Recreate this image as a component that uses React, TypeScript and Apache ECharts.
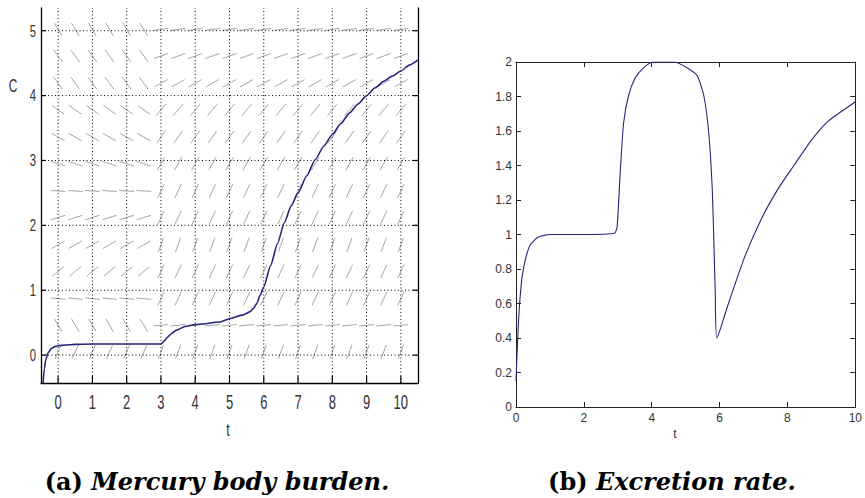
import React, { useEffect, useRef } from "react";
import * as echarts from "echarts";

// ---- (a) Mercury body burden: solution curve ----
const A_T = [-0.44, -0.4, -0.36, -0.3, -0.2, -0.1, 0, 0.2, 0.5, 1, 2, 3, 3.1, 3.2, 3.3, 3.45, 3.7, 4, 4.2, 4.7, 5, 5.4, 5.6, 5.7, 5.8, 5.9, 6, 6.2, 6.4, 6.6, 6.8, 7, 7.25, 7.5, 7.75, 8, 8.25, 8.5, 8.75, 9, 9.25, 9.5, 9.75, 10, 10.25, 10.5];
const A_C = [-0.43, -0.2, -0.07, 0.03, 0.1, 0.13, 0.145, 0.155, 0.165, 0.17, 0.17, 0.17, 0.22, 0.28, 0.33, 0.385, 0.44, 0.47, 0.48, 0.51, 0.56, 0.62, 0.67, 0.72, 0.8, 0.93, 1.05, 1.38, 1.72, 2.04, 2.3, 2.5, 2.76, 3.01, 3.22, 3.4, 3.57, 3.73, 3.87, 4.0, 4.12, 4.22, 4.3, 4.38, 4.47, 4.55];

// direction field of (a)
const FIELD_T = [0, 0.5, 1, 1.5, 2, 2.5, 3, 3.5, 4, 4.5, 5, 5.5, 6, 6.5, 7, 7.5, 8, 8.5, 9, 9.5, 10];
const FIELD_C = [0.05, 0.46, 0.87, 1.29, 1.7, 2.12, 2.53, 2.95, 3.36, 3.78, 4.19, 4.61, 5.02];
const FIELD_SWITCH_T = 3;
const FIELD_SLOPE_BEFORE = [1.2, -0.91, -0.05, 0.44, 0.3, 0.17, -0.03, -0.17, -0.3, -0.37, -0.72, -0.72, -0.9];
const FIELD_SLOPE_AFTER = [1.45, 0.05, 1.13, 1.13, 1.45, 1.13, 1.13, 0.91, 0.75, 0.63, 0.3, 0.19, 0.07];

const A_X_TICKS = [0, 1, 2, 3, 4, 5, 6, 7, 8, 9, 10];
const A_Y_TICKS = [0, 1, 2, 3, 4, 5];
const A_X_MIN = -0.5;
const A_X_MAX = 10.5;
const A_Y_MIN = -0.43;
const A_Y_MAX = 5.35;

// ---- (b) Excretion rate ----
const B_T = [0, 0.04, 0.08, 0.11, 0.17, 0.27, 0.42, 0.66, 1.0, 2.0, 2.9, 2.98, 3.07, 3.17, 3.31, 3.51, 3.75, 4.04, 4.67, 5.05, 5.34, 5.54, 5.68, 5.78, 5.83, 5.87, 5.92, 6.26, 6.74, 7.23, 7.71, 8.19, 8.68, 9.16, 9.64, 10.0];
const B_E = [0.15, 0.35, 0.52, 0.61, 0.74, 0.85, 0.94, 0.985, 1.0, 1.0, 1.007, 1.045, 1.355, 1.645, 1.8, 1.907, 1.965, 2.0, 2.0, 1.965, 1.92, 1.8, 1.59, 1.28, 0.97, 0.68, 0.4, 0.6, 0.87, 1.09, 1.26, 1.4, 1.54, 1.65, 1.72, 1.77];

const SANS = "'Liberation Sans', Arial, sans-serif";
const SERIF = "'DejaVu Serif', 'Liberation Serif', serif";
const CURVE = "#26267a";

export default function App() {
  const ref = useRef<HTMLDivElement>(null);

  useEffect(() => {
    if (!ref.current) return;
    const chart = echarts.init(ref.current, undefined, { renderer: "svg" });

    const fieldData: number[][] = [];
    FIELD_T.forEach((t) => {
      FIELD_C.forEach((c, i) => {
        const s = t < FIELD_SWITCH_T ? FIELD_SLOPE_BEFORE[i] : FIELD_SLOPE_AFTER[i];
        fieldData.push([t, c, s]);
      });
    });

    const captionRich = {
      a: { fontFamily: SERIF, fontWeight: "bold", fontSize: 24, fill: "#000" },
      b: { fontFamily: SERIF, fontWeight: "bold", fontStyle: "italic", fontSize: 24, fill: "#000" },
    };

    const option: any = {
      animation: false,
      backgroundColor: "#fff",
      grid: [
        { left: 41, top: 8, width: 377, height: 375 },
        { left: 516, top: 62, width: 345, height: 345 },
      ],
      xAxis: [
        {
          type: "value", gridIndex: 0, min: A_X_MIN, max: A_X_MAX,
          axisLine: { show: true, onZero: false, lineStyle: { color: "#000", width: 1.3 } },
          axisTick: { show: false }, axisLabel: { show: false }, splitLine: { show: false },
        },
        {
          type: "value", gridIndex: 1, min: 0, max: 10, interval: 2,
          axisLine: { show: true, onZero: false, lineStyle: { color: "#222", width: 1 } },
          axisTick: { show: true, inside: true, length: 5, lineStyle: { color: "#222" } },
          axisLabel: { color: "#333", fontSize: 12, fontFamily: SANS, margin: 5 },
          splitLine: { show: false },
        },
        {
          type: "value", gridIndex: 1, min: 0, max: 10, interval: 2, position: "top",
          axisLine: { show: true, onZero: false, lineStyle: { color: "#222", width: 1 } },
          axisTick: { show: true, inside: true, length: 5, lineStyle: { color: "#222" } },
          axisLabel: { show: false }, splitLine: { show: false },
        },
      ],
      yAxis: [
        {
          type: "value", gridIndex: 0, min: A_Y_MIN, max: A_Y_MAX,
          axisLine: { show: true, onZero: false, lineStyle: { color: "#000", width: 1.3 } },
          axisTick: { show: false }, axisLabel: { show: false }, splitLine: { show: false },
        },
        {
          type: "value", gridIndex: 0, min: A_Y_MIN, max: A_Y_MAX, position: "right",
          axisLine: { show: true, onZero: false, lineStyle: { color: "#000", width: 1.3 } },
          axisTick: { show: false }, axisLabel: { show: false }, splitLine: { show: false },
        },
        {
          type: "value", gridIndex: 1, min: 0, max: 2, interval: 0.2,
          axisLine: { show: true, onZero: false, lineStyle: { color: "#222", width: 1 } },
          axisTick: { show: true, inside: true, length: 5, lineStyle: { color: "#222" } },
          axisLabel: { color: "#333", fontSize: 12, fontFamily: SANS, margin: 4 },
          splitLine: { show: false },
        },
        {
          type: "value", gridIndex: 1, min: 0, max: 2, interval: 0.2, position: "right",
          axisLine: { show: true, onZero: false, lineStyle: { color: "#222", width: 1 } },
          axisTick: { show: true, inside: true, length: 5, lineStyle: { color: "#222" } },
          axisLabel: { show: false }, splitLine: { show: false },
        },
      ],
      series: [
        // direction field
        {
          type: "custom", xAxisIndex: 0, yAxisIndex: 0, data: fieldData, silent: true,
          renderItem: (params: any, api: any) => {
            const p = api.coord([api.value(0), api.value(1)]);
            const sz = api.size([1, 1]);
            const ang = Math.atan2(api.value(2) * sz[1], sz[0]);
            const L = 7.5;
            const dx = Math.cos(ang) * L;
            const dy = Math.sin(ang) * L;
            return {
              type: "line",
              shape: { x1: p[0] - dx, y1: p[1] + dy, x2: p[0] + dx, y2: p[1] - dy },
              style: { stroke: "#a6a6a6", lineWidth: 1 },
            };
          },
        },
        // vertical dotted grid + ticks + labels for (a)
        {
          type: "custom", xAxisIndex: 0, yAxisIndex: 0, silent: true,
          data: A_X_TICKS.map((v) => [v, A_Y_MIN]),
          renderItem: (params: any, api: any) => {
            const v = api.value(0);
            const b = api.coord([v, A_Y_MIN]);
            const t = api.coord([v, A_Y_MAX]);
            return {
              type: "group",
              children: [
                { type: "line", shape: { x1: b[0], y1: b[1], x2: t[0], y2: t[1] }, style: { stroke: "#000", lineWidth: 1, lineDash: [1, 2.5] } },
                { type: "line", shape: { x1: b[0], y1: b[1], x2: b[0], y2: b[1] - 7 }, style: { stroke: "#000", lineWidth: 1.2 } },
                {
                  type: "text", x: b[0], y: b[1] + 19, scaleX: 0.62,
                  style: { text: String(v), fontSize: 21, fontFamily: SANS, fill: "#333", align: "center", verticalAlign: "middle" },
                },
              ],
            };
          },
        },
        // horizontal dotted grid + ticks + labels for (a)
        {
          type: "custom", xAxisIndex: 0, yAxisIndex: 0, silent: true,
          data: A_Y_TICKS.map((v) => [A_X_MIN, v]),
          renderItem: (params: any, api: any) => {
            const v = api.value(1);
            const l = api.coord([A_X_MIN, v]);
            const r = api.coord([A_X_MAX, v]);
            return {
              type: "group",
              children: [
                { type: "line", shape: { x1: l[0], y1: l[1], x2: r[0], y2: r[1] }, style: { stroke: "#000", lineWidth: 1, lineDash: [1, 2.5] } },
                { type: "line", shape: { x1: l[0], y1: l[1], x2: l[0] + 5, y2: l[1] }, style: { stroke: "#000", lineWidth: 1.2 } },
                { type: "line", shape: { x1: r[0], y1: r[1], x2: r[0] - 5, y2: r[1] }, style: { stroke: "#000", lineWidth: 1.2 } },
                {
                  type: "text", x: l[0] - 5, y: l[1], scaleX: 0.66,
                  style: { text: String(v), fontSize: 17, fontFamily: SANS, fill: "#333", align: "right", verticalAlign: "middle" },
                },
              ],
            };
          },
        },
        {
          type: "line", xAxisIndex: 0, yAxisIndex: 0, showSymbol: false, smooth: 0.2, smoothMonotone: "x",
          data: A_T.map((t, i) => [t, A_C[i]]),
          lineStyle: { color: CURVE, width: 1.6 }, clip: true,
        },
        {
          type: "line", xAxisIndex: 1, yAxisIndex: 2, showSymbol: false, smooth: 0.2,
          data: B_T.map((t, i) => [t, B_E[i]]),
          lineStyle: { color: CURVE, width: 1.1 }, clip: true,
        },
      ],
      graphic: [
        { type: "text", x: 13, y: 86, scaleX: 0.66, style: { text: "C", fontSize: 18, fontFamily: SANS, fill: "#333", align: "center", verticalAlign: "middle" } },
        { type: "text", x: 228, y: 430, scaleX: 0.7, style: { text: "t", fontSize: 18, fontFamily: SANS, fill: "#333", align: "center", verticalAlign: "middle" } },
        { type: "text", x: 675, y: 434, style: { text: "t", fontSize: 12, fontFamily: SANS, fill: "#333", align: "center", verticalAlign: "middle" } },
        {
          type: "text", x: 217, y: 481,
          style: { text: "{a|(a)\u00a0}{b|Mercury body burden.}", align: "center", verticalAlign: "middle", fill: "#000", rich: captionRich },
        },
        {
          type: "text", x: 672, y: 481,
          style: { text: "{a|(b)\u00a0}{b|Excretion rate.}", align: "center", verticalAlign: "middle", fill: "#000", rich: captionRich },
        },
      ],
    };

    chart.setOption(option);
    return () => chart.dispose();
  }, []);

  return <div ref={ref} style={{ position: "fixed", left: 0, top: 0, width: 865, height: 498 }} />;
}
